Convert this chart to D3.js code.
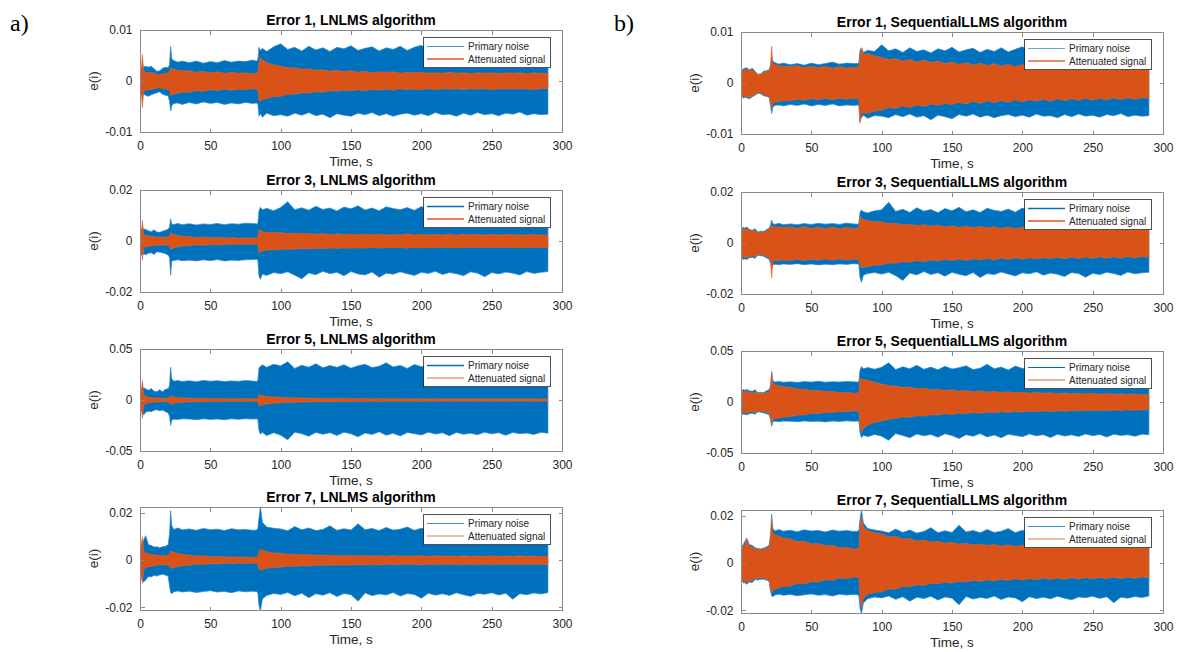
<!DOCTYPE html>
<html><head><meta charset="utf-8">
<script src="https://cdn.jsdelivr.net/npm/d3@7"></script>
<style>body{margin:0;background:#fff}svg{display:block}</style>
</head><body>
<script>
// ---------- DATA (envelopes, in units of 1e-3) ----------
const UNIT = 1e-3;
const T = [0,0.8,1.7,2.6,4,6,8,10,12,14,16,18,20,
  21,21.8,22.6,24,27,30,
  35,40,45,50,55,60,65,70,75,80,
  83,83.8,84.6,85.6,87,90,95,
  100,105,110,115,120,125,130,135,140,145,150,155,160,165,170,175,180,185,190,195,200,205,210,215,220,225,230,235,240,245,250,255,260,265,270,275,280,285,290];

const xTicks = [0,50,100,150,200,250,300];
const xTickLabels = ["0","50","100","150","200","250","300"];
const titlesA = ["Error 1, LNLMS algorithm","Error 3, LNLMS algorithm","Error 5, LNLMS algorithm","Error 7, LNLMS algorithm"];
const titlesB = ["Error 1, SequentialLLMS algorithm","Error 3, SequentialLLMS algorithm","Error 5, SequentialLLMS algorithm","Error 7, SequentialLLMS algorithm"];
const yTicks1 = [-0.01,0,0.01], yTickLabels1 = ["-0.01","0","0.01"], yDomain1 = [-0.01,0.01];
const yTicks3 = [-0.02,0,0.02], yTickLabels3 = ["-0.02","0","0.02"], yDomain3 = [-0.02,0.02];
const yTicks5 = [-0.05,0,0.05], yTickLabels5 = ["-0.05","0","0.05"], yDomain5 = [-0.05,0.05];
const yTicks7 = [-0.02,0,0.02], yTickLabels7 = ["-0.02","0","0.02"], yDomain7 = [-0.0212,0.0225];
const legendLabels = ["Primary noise","Attenuated signal"];
const seriesColors = ["#0072BD","#D95319"];

// a1: Error 1, LNLMS
const a1BlueUp = [1.5,2.6,2.5,2.8,2.9,2.7,2.9,2.4,1.9,2.0,2.5,2.7,2.6, 3.2,6.8,4.3,4.0,3.7,3.9, 3.6,3.9,3.5,3.8,3.6,4.0,3.7,3.9,3.8,4.1, 3.9,4.2,6.6,6.0,6.4,5.8,6.7,
  7.3,6.2,6.6,5.9,6.8,6.1,6.5,5.8,6.6,6.3,6.9,6.0,6.4,6.7,5.9,6.5,6.2,6.8,6.0,6.6,7.0,6.1,6.4,5.9,6.6,6.2,6.8,6.0,6.5,5.8,6.4,6.1,6.7,6.0,6.3,5.9,6.5,6.0,6.2];
const a1BlueLo = [-1.5,-2.7,-2.9,-2.6,-2.8,-3.0,-2.7,-2.5,-2.3,-2.1,-2.6,-2.8,-2.9, -4.0,-5.9,-4.8,-4.4,-4.3,-4.6, -4.2,-4.5,-4.1,-4.4,-4.2,-4.6,-4.3,-4.5,-4.2,-4.4, -4.3,-4.6,-6.9,-6.4,-7.1,-6.3,-6.8,
  -6.6,-6.9,-6.3,-6.7,-6.2,-6.8,-6.5,-7.2,-6.4,-6.7,-6.9,-6.3,-6.6,-6.2,-6.8,-6.4,-6.9,-6.5,-6.3,-6.7,-6.4,-6.8,-6.2,-6.6,-6.5,-6.9,-6.3,-6.7,-6.2,-6.6,-6.4,-6.8,-6.3,-6.5,-6.1,-6.7,-6.4,-6.6,-6.5];
const a1OrUp = [1.2,1.8,5.2,2.0,1.7,1.6,1.7,1.5,1.3,1.2,1.4,1.5,1.5, 1.8,2.6,2.4,2.3,2.1,2.0, 2.0,1.7,1.9,1.6,1.8,1.5,1.7,1.5,1.6,1.4, 1.5,1.7,3.6,4.6,4.1,3.6,3.2,
  2.9,2.6,2.6,2.3,2.4,2.1,2.2,1.9,2.1,1.8,2.0,1.7,1.9,1.6,1.8,1.7,1.8,1.5,1.7,1.6,1.7,1.5,1.6,1.5,1.7,1.5,1.6,1.4,1.6,1.5,1.6,1.4,1.6,1.5,1.6,1.4,1.6,1.5,1.5];
const a1OrLo = [-1.2,-1.9,-5.2,-2.1,-1.8,-1.7,-1.7,-1.5,-1.4,-1.3,-1.5,-1.6,-1.6, -2.0,-2.8,-2.7,-2.6,-2.4,-2.2, -2.2,-1.9,-2.0,-1.7,-1.9,-1.6,-1.8,-1.6,-1.7,-1.5, -1.6,-1.8,-3.9,-4.0,-3.7,-3.4,-3.1,
  -3.0,-2.6,-2.6,-2.3,-2.4,-2.1,-2.2,-1.9,-2.0,-1.8,-1.9,-1.7,-1.9,-1.6,-1.8,-1.6,-1.8,-1.5,-1.7,-1.6,-1.7,-1.5,-1.7,-1.5,-1.6,-1.5,-1.7,-1.5,-1.6,-1.5,-1.7,-1.5,-1.6,-1.5,-1.6,-1.5,-1.7,-1.5,-1.5];

// a2: Error 3, LNLMS
const a2BlueUp = [3.0,4.5,4.2,4.8,4.5,4.0,3.6,4.4,3.5,3.4,3.8,4.2,4.6, 5.5,8.7,6.6,6.5,6.9,6.4, 6.8,6.3,6.7,6.5,6.9,6.4,6.8,6.6,7.0,6.9, 6.7,7.0,11.8,13.2,12.2,12.8,11.9,
  13.1,15.4,12.3,13.0,12.1,13.6,12.4,12.9,11.8,13.3,12.6,13.8,12.2,12.9,11.9,13.4,12.7,12.3,13.1,12.0,13.5,12.4,12.8,11.9,13.2,12.5,12.9,11.8,13.4,12.2,12.7,13.0,12.1,12.6,11.8,12.9,12.3,12.5,11.9];
const a2BlueLo = [-3.0,-5.2,-5.6,-5.0,-5.4,-4.8,-4.6,-5.3,-4.2,-4.4,-4.6,-5.0,-5.5, -6.5,-13.4,-7.8,-7.6,-7.4,-7.7, -7.5,-7.8,-7.4,-7.7,-7.3,-7.8,-7.5,-7.6,-7.4,-7.3, -7.2,-7.5,-13.8,-15.0,-12.9,-13.5,-12.4,
  -12.8,-12.1,-13.4,-14.8,-12.5,-13.2,-11.9,-12.8,-12.3,-13.6,-12.0,-12.9,-13.3,-12.2,-14.2,-12.6,-13.0,-12.1,-12.8,-13.5,-12.3,-12.7,-11.9,-13.1,-12.4,-12.8,-13.6,-12.1,-12.6,-14.0,-12.4,-12.9,-12.2,-12.6,-13.3,-12.0,-12.7,-12.3,-12.0];
const a2OrUp = [1.5,2.5,8.0,2.5,2.2,2.0,1.8,1.7,1.6,1.6,1.5,1.5,1.6, 2.0,3.2,3.0,2.6,2.2,1.9, 1.8,1.4,1.6,1.3,1.5,1.2,1.4,1.1,1.3,1.1, 1.2,1.5,4.4,4.0,3.6,3.4,3.2,
  3.3,2.9,3.1,2.8,2.9,2.6,2.9,2.5,2.8,2.5,2.7,2.4,2.7,2.4,2.7,2.3,2.6,2.4,2.7,2.3,2.6,2.4,2.6,2.3,2.7,2.3,2.6,2.4,2.6,2.3,2.6,2.3,2.6,2.4,2.5,2.3,2.6,2.3,2.4];
const a2OrLo = [-1.5,-2.6,-7.5,-2.6,-2.3,-2.1,-1.9,-1.8,-1.7,-1.7,-1.6,-1.6,-1.7, -2.2,-3.2,-3.1,-2.7,-2.3,-2.0, -1.9,-1.5,-1.7,-1.4,-1.6,-1.3,-1.5,-1.2,-1.4,-1.2, -1.3,-1.6,-4.6,-4.3,-3.9,-3.6,-3.4,
  -3.4,-3.1,-3.2,-2.9,-3.1,-2.8,-3.0,-2.7,-2.9,-2.7,-2.8,-2.6,-2.8,-2.5,-2.8,-2.5,-2.7,-2.5,-2.8,-2.5,-2.7,-2.5,-2.7,-2.4,-2.7,-2.5,-2.6,-2.4,-2.7,-2.4,-2.7,-2.4,-2.6,-2.5,-2.7,-2.4,-2.6,-2.4,-2.5];

// a3: Error 5, LNLMS
const a3BlueUp = [6.0,10.5,11.4,12.0,11.0,9.5,11.2,8.5,8.2,10.0,8.0,10.5,11.0, 14.0,32.0,20.5,18.5,19.0,18.2, 18.8,18.0,19.2,18.4,18.9,18.1,18.7,18.3,19.0,18.6, 18.2,19.0,31.5,33.0,34.5,32.0,35.0,
  33.5,37.5,31.0,34.0,32.2,35.5,31.5,33.8,32.0,34.6,31.2,33.5,35.0,31.8,33.0,36.5,32.4,33.9,31.0,34.8,32.6,33.2,31.5,34.2,32.0,33.6,35.2,31.8,33.0,32.4,34.5,31.7,33.1,32.3,34.0,31.5,32.8,33.4,31.6];
const a3BlueLo = [-6.0,-11.0,-12.5,-14.7,-12.0,-11.0,-11.5,-10.0,-9.5,-10.5,-9.8,-11.5,-12.5, -16.0,-25.0,-19.5,-18.8,-19.2,-18.5, -18.7,-19.3,-18.4,-19.0,-18.6,-19.4,-18.5,-18.9,-18.3,-18.7, -18.5,-19.0,-30.0,-33.5,-31.5,-35.0,-32.0,
  -34.5,-39.0,-31.5,-33.0,-35.5,-31.8,-33.6,-32.0,-34.8,-31.5,-33.2,-36.0,-32.4,-33.8,-31.2,-34.5,-32.6,-35.2,-31.9,-33.0,-34.2,-31.6,-33.4,-32.2,-35.0,-31.8,-33.6,-32.5,-34.0,-31.5,-33.2,-32.0,-34.6,-31.8,-33.0,-32.4,-33.8,-31.7,-32.5];
const a3OrUp = [3.0,8.0,19.0,6.0,3.5,2.8,2.5,2.2,2.0,2.0,1.8,1.8,1.8, 2.5,4.0,3.8,3.0,2.5,2.0, 1.9,1.5,1.6,1.3,1.5,1.2,1.5,1.2,1.4,1.1, 1.3,1.8,5.5,4.9,4.2,3.5,3.0,
  2.6,2.2,2.2,1.9,1.9,1.6,1.7,1.5,1.6,1.4,1.5,1.3,1.5,1.2,1.4,1.2,1.4,1.1,1.3,1.1,1.3,1.1,1.3,1.0,1.3,1.0,1.3,1.0,1.2,1.0,1.2,1.0,1.2,1.0,1.2,1.0,1.2,1.0,1.1];
const a3OrLo = [-3.0,-8.0,-18.0,-6.0,-3.5,-2.8,-2.5,-2.2,-2.0,-2.0,-1.8,-1.8,-1.8, -2.6,-4.2,-4.0,-3.2,-2.6,-2.1, -2.0,-1.6,-1.7,-1.4,-1.6,-1.3,-1.5,-1.3,-1.4,-1.2, -1.3,-2.0,-5.9,-5.5,-4.6,-3.8,-3.2,
  -2.8,-2.4,-2.3,-2.0,-2.0,-1.7,-1.8,-1.6,-1.7,-1.5,-1.6,-1.4,-1.5,-1.3,-1.5,-1.3,-1.4,-1.2,-1.4,-1.2,-1.4,-1.2,-1.3,-1.1,-1.3,-1.1,-1.3,-1.1,-1.3,-1.1,-1.3,-1.1,-1.3,-1.1,-1.3,-1.1,-1.3,-1.1,-1.2];

// a4: Error 7, LNLMS
const a4BlueUp = [3.0,6.0,7.0,8.5,10.3,6.5,6.2,5.5,5.6,5.2,5.6,5.8,6.5, 11.0,20.9,14.5,13.0,13.6,12.8, 13.2,12.6,13.4,12.9,13.1,12.5,13.3,12.8,13.0,12.6, 12.7,13.5,18.0,22.6,16.0,14.0,13.5,
  13.2,12.4,14.2,12.8,13.6,12.5,13.0,14.5,12.6,13.3,12.7,15.4,12.9,13.4,12.5,13.8,12.7,13.1,14.0,12.6,13.5,12.8,13.2,12.4,13.9,12.7,13.0,12.5,13.6,12.8,13.1,12.6,13.4,12.9,12.5,13.2,12.6,13.0,12.4];
const a4BlueLo = [-3.0,-7.0,-8.5,-9.3,-8.5,-7.0,-7.2,-6.5,-6.8,-6.3,-6.0,-6.4,-6.8, -11.0,-13.9,-14.3,-13.5,-13.1,-13.6, -13.2,-13.8,-13.4,-13.0,-13.6,-13.3,-13.9,-13.1,-13.5,-13.2, -13.4,-14.0,-19.5,-21.6,-16.5,-15.0,-14.2,
  -14.6,-13.8,-15.2,-14.1,-16.0,-14.3,-14.9,-13.9,-15.5,-14.2,-14.7,-17.5,-14.0,-15.1,-14.4,-14.8,-13.8,-15.3,-14.2,-14.6,-16.2,-14.1,-14.9,-14.3,-15.0,-13.9,-14.7,-15.4,-14.2,-14.5,-13.9,-14.8,-14.1,-16.6,-14.3,-14.7,-14.0,-14.4,-13.8];
const a4OrUp = [3.0,6.0,9.9,4.0,3.0,2.6,2.4,2.2,2.0,2.0,1.9,1.9,2.0, 2.6,3.8,3.6,3.3,2.8,2.3, 2.1,1.7,1.8,1.4,1.5,1.3,1.4,1.2,1.3,1.1, 1.2,1.6,3.5,4.5,4.2,3.6,3.0,
  2.9,2.5,2.5,2.2,2.3,2.0,2.1,1.9,2.0,1.8,1.9,1.7,1.9,1.7,1.8,1.6,1.9,1.6,1.8,1.6,1.8,1.5,1.8,1.6,1.7,1.5,1.8,1.5,1.7,1.5,1.8,1.5,1.7,1.5,1.8,1.5,1.7,1.5,1.6];
const a4OrLo = [-3.0,-6.5,-10.0,-4.0,-3.2,-2.8,-2.6,-2.4,-2.2,-2.1,-2.1,-2.1,-2.2, -2.8,-3.5,-3.5,-3.2,-2.8,-2.4, -2.2,-1.8,-1.9,-1.6,-1.7,-1.4,-1.6,-1.3,-1.5,-1.3, -1.4,-1.8,-3.8,-4.2,-4.0,-3.5,-3.1,
  -3.0,-2.6,-2.7,-2.4,-2.5,-2.2,-2.3,-2.1,-2.2,-2.0,-2.2,-1.9,-2.1,-1.9,-2.1,-1.8,-2.1,-1.8,-2.0,-1.8,-2.1,-1.8,-2.0,-1.8,-2.0,-1.8,-2.1,-1.8,-2.0,-1.8,-2.0,-1.8,-2.0,-1.8,-2.0,-1.8,-2.0,-1.8,-1.9];

// b1: Error 1, SequentialLLMS
const b1BlueUp = [1.5,2.5,2.8,2.9,3.0,2.6,2.9,2.3,1.7,1.8,2.3,2.4,2.6, 3.5,4.9,4.3,4.0,3.7,3.9, 3.6,3.8,3.5,3.9,3.6,3.8,4.1,3.7,3.9,3.8, 3.8,4.0,6.4,6.9,6.0,6.4,6.2,
  7.5,6.3,6.7,6.0,6.9,6.2,6.5,5.9,6.7,6.3,7.0,6.1,6.5,6.8,6.0,6.6,6.2,6.9,6.1,6.6,7.1,6.2,6.5,6.0,6.7,6.3,6.8,6.0,6.4,5.9,6.5,6.1,6.6,6.0,6.3,5.9,6.4,6.0,6.2];
const b1BlueLo = [-1.5,-2.6,-3.0,-2.8,-2.9,-3.1,-2.7,-2.4,-2.0,-2.1,-2.5,-2.6,-2.8, -4.5,-6.0,-4.8,-4.4,-4.3,-4.5, -4.2,-4.4,-4.1,-4.5,-4.2,-4.4,-4.1,-4.5,-4.3,-4.4, -4.3,-4.5,-7.5,-6.8,-6.3,-6.9,-6.4,
  -6.5,-6.8,-6.2,-6.6,-6.1,-6.7,-6.4,-7.2,-6.3,-6.6,-7.0,-6.2,-6.5,-6.1,-6.7,-6.3,-6.8,-6.4,-6.2,-6.6,-6.3,-6.7,-6.1,-6.5,-6.4,-6.8,-6.2,-6.6,-6.1,-6.5,-6.3,-6.7,-6.2,-6.4,-6.0,-6.6,-6.3,-6.5,-6.4];
const b1OrUp = [1.3,2.3,2.5,2.6,2.7,2.4,2.6,2.1,1.6,1.7,2.1,2.2,2.4, 3.2,7.2,3.8,3.6,3.4,3.3, 3.2,3.4,3.0,3.3,3.0,3.3,2.9,3.2,2.9,3.1, 3.0,3.2,5.5,6.9,5.6,5.8,5.3,
  5.0,4.6,4.8,4.3,4.6,4.1,4.5,4.0,4.3,3.8,4.1,3.6,4.0,3.5,3.9,3.4,3.8,3.3,3.7,3.2,3.6,3.1,3.5,3.0,3.5,3.0,3.4,2.9,3.3,2.9,3.3,2.8,3.2,2.8,3.2,2.7,3.1,2.7,2.9];
const b1OrLo = [-1.3,-2.4,-2.7,-2.6,-2.7,-2.9,-2.5,-2.2,-1.8,-1.9,-2.3,-2.4,-2.6, -3.8,-5.0,-4.0,-3.8,-3.6,-3.5, -3.5,-3.2,-3.4,-3.1,-3.3,-3.0,-3.3,-3.0,-3.2,-3.0, -3.1,-3.4,-7.9,-6.2,-5.8,-6.0,-5.5,
  -5.3,-4.8,-5.0,-4.5,-4.8,-4.3,-4.6,-4.1,-4.4,-4.0,-4.2,-3.8,-4.1,-3.6,-4.0,-3.5,-3.9,-3.4,-3.8,-3.3,-3.7,-3.3,-3.6,-3.2,-3.6,-3.1,-3.5,-3.1,-3.4,-3.0,-3.4,-3.0,-3.3,-2.9,-3.3,-2.9,-3.2,-2.9,-3.0];

// b2: Error 3, SequentialLLMS
const b2BlueUp = [3.0,5.5,6.3,5.8,6.3,5.4,5.0,5.6,4.3,4.6,4.5,5.2,5.8, 7.0,9.0,7.6,7.3,7.7,7.2, 7.5,7.2,7.6,7.3,7.7,7.4,7.6,7.3,7.8,7.5, 7.4,7.8,12.0,12.9,12.3,11.8,12.6,
  13.0,16.0,12.4,13.2,12.0,13.8,12.5,13.1,11.9,13.5,12.6,14.0,12.3,13.0,12.0,13.6,12.8,12.4,13.3,12.1,13.7,12.5,12.9,12.0,13.4,12.6,13.0,11.9,13.5,12.3,12.8,13.1,12.2,12.7,11.9,13.0,12.4,12.6,12.0];
const b2BlueLo = [-3.0,-6.0,-6.6,-6.2,-6.5,-5.8,-5.6,-6.0,-4.8,-5.0,-5.2,-5.8,-6.4, -8.0,-9.5,-8.6,-8.3,-8.5,-8.2, -8.4,-8.1,-8.5,-8.2,-8.6,-8.3,-8.5,-8.2,-8.4,-8.1, -8.2,-8.5,-13.5,-15.4,-12.6,-12.0,-11.6,
  -12.2,-11.5,-12.8,-14.7,-11.8,-12.5,-11.2,-12.4,-11.7,-13.0,-11.5,-12.3,-12.8,-11.6,-13.5,-12.0,-12.4,-11.4,-12.2,-12.9,-11.7,-12.1,-11.3,-12.6,-11.8,-12.3,-13.1,-11.6,-12.0,-13.4,-11.9,-12.4,-11.5,-12.0,-12.7,-11.4,-12.1,-11.7,-11.5];
const b2OrUp = [2.5,5.0,5.7,5.3,5.7,5.0,4.6,5.0,4.0,4.2,4.2,4.8,5.3, 6.0,7.0,6.6,6.4,6.3,6.2, 6.3,5.8,6.4,5.7,6.2,5.7,6.2,5.6,6.1,5.7, 5.8,6.2,10.5,9.8,9.2,8.8,8.4,
  8.3,7.6,7.8,7.1,7.4,6.8,7.2,6.6,7.0,6.3,6.8,6.1,6.6,6.0,6.5,5.9,6.4,5.7,6.3,5.6,6.2,5.6,6.1,5.5,6.0,5.4,6.0,5.3,5.9,5.3,5.9,5.2,5.8,5.2,5.8,5.1,5.7,5.1,5.4];
const b2OrLo = [-2.5,-5.4,-5.8,-5.5,-5.8,-5.3,-5.0,-5.3,-4.4,-4.6,-4.8,-5.2,-5.8, -7.0,-13.7,-7.2,-6.9,-6.8,-6.7, -7.0,-6.4,-6.9,-6.4,-6.8,-6.3,-6.8,-6.3,-6.7,-6.4, -6.5,-6.8,-8.5,-9.7,-9.6,-9.2,-8.7,
  -8.6,-7.8,-8.0,-7.3,-7.6,-6.9,-7.4,-6.7,-7.1,-6.5,-6.9,-6.3,-6.8,-6.2,-6.7,-6.0,-6.6,-5.9,-6.5,-5.8,-6.4,-5.8,-6.3,-5.7,-6.2,-5.6,-6.2,-5.5,-6.1,-5.5,-6.1,-5.4,-6.0,-5.4,-6.0,-5.3,-5.9,-5.3,-5.6];

// b3: Error 5, SequentialLLMS
const b3BlueUp = [6.0,11.0,12.5,11.5,12.2,11.0,10.5,12.0,9.0,9.5,9.0,11.0,12.0, 16.0,30.0,21.0,19.5,20.2,19.4, 19.8,19.2,20.0,19.5,20.3,19.4,19.9,19.6,20.2,19.8, 19.5,20.0,31.0,34.7,32.5,33.8,32.2,
  34.0,38.5,31.8,34.5,32.6,36.0,32.0,34.2,31.5,35.0,32.4,33.6,35.5,31.8,33.2,37.0,32.6,34.2,31.4,35.2,32.8,33.5,31.6,34.6,32.2,33.8,35.6,31.9,33.3,32.5,34.7,31.8,33.4,32.3,34.2,31.6,32.9,33.5,31.7];
const b3BlueLo = [-6.0,-11.5,-12.3,-12.0,-12.5,-11.5,-11.0,-12.0,-9.5,-10.0,-10.5,-11.5,-12.5, -17.0,-24.0,-19.5,-18.8,-19.3,-18.7, -18.9,-19.4,-18.6,-19.2,-18.8,-19.5,-18.7,-19.1,-18.5,-18.9, -18.7,-19.2,-30.0,-35.0,-32.5,-34.0,-31.8,
  -33.5,-37.5,-31.0,-32.8,-35.0,-31.4,-33.2,-31.8,-34.5,-31.2,-32.9,-35.8,-32.0,-33.5,-31.0,-34.2,-32.3,-35.0,-31.6,-32.8,-34.0,-31.4,-33.1,-32.0,-34.8,-31.6,-33.4,-32.2,-33.8,-31.3,-33.0,-31.8,-34.4,-31.6,-32.8,-32.1,-33.6,-31.5,-32.2];
const b3OrUp = [5.0,10.0,10.4,10.0,10.5,9.5,9.0,10.0,8.0,8.5,8.0,9.5,10.5, 14.0,28.0,19.0,17.0,16.0,15.0, 14.4,12.7,12.6,11.2,11.4,10.2,10.4,9.3,9.6,8.6, 8.6,9.0,23.4,22.5,22.0,21.5,19.0,
  17.6,16.0,15.6,14.2,14.6,13.0,13.6,12.0,12.6,11.2,12.0,10.6,11.3,10.1,10.8,9.7,10.4,9.3,10.0,9.0,9.7,8.7,9.4,8.5,9.1,8.2,8.9,8.0,8.7,7.8,8.5,7.6,8.3,7.4,8.1,7.3,7.9,7.1,7.2];
const b3OrLo = [-5.0,-10.5,-10.7,-10.2,-10.8,-10.0,-9.5,-10.5,-8.5,-9.0,-9.0,-10.0,-11.0, -15.0,-22.0,-17.5,-16.2,-15.6,-14.8, -14.4,-12.7,-12.7,-11.3,-11.4,-10.2,-10.4,-9.3,-9.6,-8.8, -8.8,-9.5,-24.0,-30.0,-26.0,-22.5,-20.0,
  -18.6,-16.8,-16.0,-14.7,-15.0,-13.6,-13.8,-12.4,-12.8,-11.6,-12.2,-10.9,-11.6,-10.4,-11.1,-10.0,-10.6,-9.6,-10.2,-9.3,-9.9,-9.0,-9.6,-8.8,-9.4,-8.6,-9.1,-8.4,-8.9,-8.2,-8.7,-8.0,-8.5,-7.8,-8.4,-7.6,-8.2,-7.5,-7.6];

// b4: Error 7, SequentialLLMS
const b4BlueUp = [3.0,7.0,8.0,9.0,10.6,7.8,7.5,6.5,6.2,6.0,6.3,6.8,7.5, 12.0,20.7,14.8,13.6,14.2,13.5, 13.9,13.3,14.1,13.6,13.8,13.2,14.0,13.5,13.8,13.4, 13.5,14.0,18.5,22.6,17.0,14.6,14.0,
  13.6,12.8,14.4,13.0,14.0,12.7,13.4,15.0,12.9,13.7,13.0,16.0,13.2,13.8,12.8,14.2,13.0,13.5,14.6,12.9,13.9,13.1,13.6,12.7,14.3,13.0,13.4,12.8,14.0,13.1,13.5,12.9,13.8,13.2,12.8,13.6,12.9,13.3,12.7];
const b4BlueLo = [-3.0,-7.5,-8.5,-8.3,-9.0,-8.0,-8.3,-7.0,-7.2,-6.9,-6.9,-7.2,-7.8, -12.0,-14.0,-14.3,-13.6,-13.2,-13.7, -13.3,-13.9,-13.5,-13.1,-13.7,-13.4,-14.0,-13.2,-13.6,-13.3, -13.5,-14.0,-19.0,-21.6,-17.0,-15.2,-14.4,
  -14.8,-14.0,-15.4,-14.3,-16.2,-14.5,-15.1,-14.1,-15.7,-14.4,-14.9,-17.7,-14.2,-15.3,-14.6,-15.0,-14.0,-15.5,-14.4,-14.8,-16.4,-14.3,-15.1,-14.5,-15.2,-14.1,-14.9,-15.6,-14.4,-14.7,-14.1,-15.0,-14.3,-16.8,-14.5,-14.9,-14.2,-14.6,-14.0];
const b4OrUp = [2.8,6.5,7.0,7.5,10.4,7.0,6.8,6.0,5.8,5.6,5.8,6.2,6.8, 11.0,18.3,13.0,12.0,11.4,10.6, 10.3,9.1,9.2,8.1,8.3,7.3,7.5,6.5,6.7,6.0, 6.0,6.5,16.0,19.7,15.5,13.6,12.8,
  12.4,11.2,11.3,10.2,10.4,9.4,9.8,8.9,9.2,8.4,8.8,8.0,8.4,7.7,8.1,7.4,7.9,7.2,7.7,7.0,7.5,6.9,7.4,6.7,7.3,6.6,7.2,6.5,7.1,6.4,7.0,6.4,6.9,6.3,6.9,6.3,6.8,6.2,6.5];
const b4OrLo = [-2.8,-7.0,-7.8,-7.6,-8.3,-7.5,-7.6,-6.5,-6.6,-6.3,-6.4,-6.8,-7.3, -11.0,-12.7,-12.0,-11.2,-10.6,-10.0, -9.8,-8.7,-8.9,-7.9,-8.1,-7.1,-7.3,-6.4,-6.6,-6.0, -6.0,-6.5,-15.5,-19.1,-15.0,-13.2,-12.5,
  -12.2,-11.0,-11.1,-10.0,-10.1,-9.2,-9.5,-8.6,-8.9,-8.1,-8.5,-7.7,-8.1,-7.4,-7.8,-7.1,-7.6,-6.9,-7.4,-6.7,-7.2,-6.6,-7.1,-6.4,-7.0,-6.3,-6.9,-6.2,-6.8,-6.2,-6.7,-6.1,-6.7,-6.0,-6.6,-6.0,-6.5,-5.9,-6.2];

// ---------- LAYOUT ----------
const W = 1181, H = 652;
const colA = {x0: 140, x1: 562}, colB = {x0: 741, x1: 1163};
const rowsA = [[30,132],[190,292],[349,451],[507,610]];
const rowsB = [[32,134],[192,294],[351,453],[510,613]];
const yCfg = [
  {ticks: yTicks1, labels: yTickLabels1, domain: yDomain1},
  {ticks: yTicks3, labels: yTickLabels3, domain: yDomain3},
  {ticks: yTicks5, labels: yTickLabels5, domain: yDomain5},
  {ticks: yTicks7, labels: yTickLabels7, domain: yDomain7}
];
const dataA = [
  [a1BlueUp,a1BlueLo,a1OrUp,a1OrLo],[a2BlueUp,a2BlueLo,a2OrUp,a2OrLo],
  [a3BlueUp,a3BlueLo,a3OrUp,a3OrLo],[a4BlueUp,a4BlueLo,a4OrUp,a4OrLo]];
const dataB = [
  [b1BlueUp,b1BlueLo,b1OrUp,b1OrLo],[b2BlueUp,b2BlueLo,b2OrUp,b2OrLo],
  [b3BlueUp,b3BlueLo,b3OrUp,b3OrLo],[b4BlueUp,b4BlueLo,b4OrUp,b4OrLo]];
// legend line widths per panel (primary, attenuated), as seen in the picture
const legendWidthsA = [[1,1.3],[1.6,1.6],[1.6,1],[1,2.2]];
const legendWidthsB = [[1,1.6],[1.6,1.6],[1.2,1.2],[1,2.2]];
const legendAlphaA = [[0.7,1],[1,1],[1,0.85],[0.8,0.4]];
const legendAlphaB = [[0.6,0.9],[1,1],[1,0.9],[0.8,0.4]];

const panels = [];
for (let r = 0; r < 4; r++) {
  panels.push({col: colA, row: rowsA[r], title: titlesA[r], y: yCfg[r], d: dataA[r], lw: legendWidthsA[r], la: legendAlphaA[r]});
  panels.push({col: colB, row: rowsB[r], title: titlesB[r], y: yCfg[r], d: dataB[r], lw: legendWidthsB[r], la: legendAlphaB[r]});
}

const FONT = "'Liberation Sans', Arial, Helvetica, sans-serif";
const TXT = "#262626", AX = "#8a8a8a";

const svg = d3.select("body").append("svg")
  .attr("width", W).attr("height", H)
  .style("font-family", FONT);
svg.append("rect").attr("width", W).attr("height", H).attr("fill", "#fff");

const defs = svg.append("defs");

panels.forEach((p, k) => {
  const x = d3.scaleLinear().domain([0, 300]).range([p.col.x0, p.col.x1]);
  const y = d3.scaleLinear().domain(p.y.domain).range([p.row[1], p.row[0]]);
  const g = svg.append("g");
  const cid = "clip" + k;
  defs.append("clipPath").attr("id", cid).append("rect")
    .attr("x", p.col.x0).attr("y", p.row[0])
    .attr("width", p.col.x1 - p.col.x0).attr("height", p.row[1] - p.row[0]);

  const [bUp, bLo, oUp, oLo] = p.d;
  const mk = (up, lo) => d3.area()
    .x((d, i) => x(T[i]))
    .y0((d, i) => y(lo[i] * UNIT))
    .y1((d, i) => y(up[i] * UNIT))
    .defined((d, i) => up[i] != null && lo[i] != null && T[i] != null);

  const plot = g.append("g").attr("clip-path", `url(#${cid})`);
  plot.append("path").datum(bUp).attr("d", mk(bUp, bLo))
    .attr("fill", seriesColors[0]).attr("stroke", "#2a86cc").attr("stroke-width", 0.7).attr("stroke-linejoin", "miter");
  plot.append("path").datum(oUp).attr("d", mk(oUp, oLo))
    .attr("fill", seriesColors[1]).attr("stroke", "#e0642c").attr("stroke-width", 0.6);

  // box
  g.append("rect").attr("x", p.col.x0 + 0.5).attr("y", p.row[0] + 0.5)
    .attr("width", p.col.x1 - p.col.x0).attr("height", p.row[1] - p.row[0])
    .attr("fill", "none").attr("stroke", AX).attr("stroke-width", 1).attr("shape-rendering", "crispEdges");

  const styleAxis = (sel, showText) => {
    sel.select(".domain").remove();
    sel.selectAll(".tick line").attr("stroke", AX).attr("shape-rendering", "crispEdges");
    sel.selectAll(".tick text").attr("fill", TXT).style("font-size", "12px").style("font-family", FONT);
    if (!showText) sel.selectAll(".tick text").remove();
  };

  const bottom = g.append("g").attr("transform", `translate(0,${p.row[1] + 0.5})`)
    .call(d3.axisBottom(x).tickValues(xTicks).tickFormat((d, i) => xTickLabels[i]).tickSize(-4).tickPadding(9));
  styleAxis(bottom, true);
  const top = g.append("g").attr("transform", `translate(0,${p.row[0] + 0.5})`)
    .call(d3.axisTop(x).tickValues(xTicks).tickSize(-4));
  styleAxis(top, false);
  const left = g.append("g").attr("transform", `translate(${p.col.x0 + 0.5},0)`)
    .call(d3.axisLeft(y).tickValues(p.y.ticks).tickFormat((d, i) => p.y.labels[i]).tickSize(-4).tickPadding(8));
  styleAxis(left, true);
  const right = g.append("g").attr("transform", `translate(${p.col.x1 + 0.5},0)`)
    .call(d3.axisRight(y).tickValues(p.y.ticks).tickSize(-4));
  styleAxis(right, false);

  const cx = (p.col.x0 + p.col.x1) / 2;
  g.append("text").attr("x", cx).attr("y", p.row[0] - 5)
    .attr("text-anchor", "middle").attr("fill", "#000")
    .style("font-size", "14px").style("font-weight", "bold").text(p.title);
  g.append("text").attr("x", cx).attr("y", p.row[1] + 34)
    .attr("text-anchor", "middle").attr("fill", TXT)
    .style("font-size", "13.5px").text("Time, s");
  g.append("text").attr("transform", `translate(${p.col.x0 - 42},${(p.row[0] + p.row[1]) / 2}) rotate(-90)`)
    .attr("text-anchor", "middle").attr("fill", TXT)
    .style("font-size", "13.5px").text("e(i)");

  // legend
  const lw = 127, lh = 30;
  const lx = p.col.x1 - 12 - lw, ly = p.row[0] + 7;
  const lg = g.append("g").attr("transform", `translate(${lx},${ly})`);
  lg.append("rect").attr("x", 0.5).attr("y", 0.5).attr("width", lw).attr("height", lh)
    .attr("fill", "#fff").attr("stroke", "#262626").attr("stroke-width", 0.8).attr("shape-rendering", "crispEdges");
  legendLabels.forEach((lab, i) => {
    const yy = 9.5 + i * 12.5;
    lg.append("line").attr("x1", 4).attr("x2", 41).attr("y1", yy).attr("y2", yy)
      .attr("stroke", seriesColors[i]).attr("stroke-width", p.lw[i]).attr("stroke-opacity", p.la[i]);
    lg.append("text").attr("x", 45).attr("y", yy).attr("dy", "0.35em")
      .attr("fill", TXT).style("font-size", "10px").text(lab);
  });
});

svg.append("text").attr("x", 10).attr("y", 31).style("font-family", "'Liberation Serif', 'DejaVu Serif', serif")
  .style("font-size", "24px").attr("fill", "#000").text("a)");
svg.append("text").attr("x", 614).attr("y", 31).style("font-family", "'Liberation Serif', 'DejaVu Serif', serif")
  .style("font-size", "24px").attr("fill", "#000").text("b)");
</script>
</body></html>
